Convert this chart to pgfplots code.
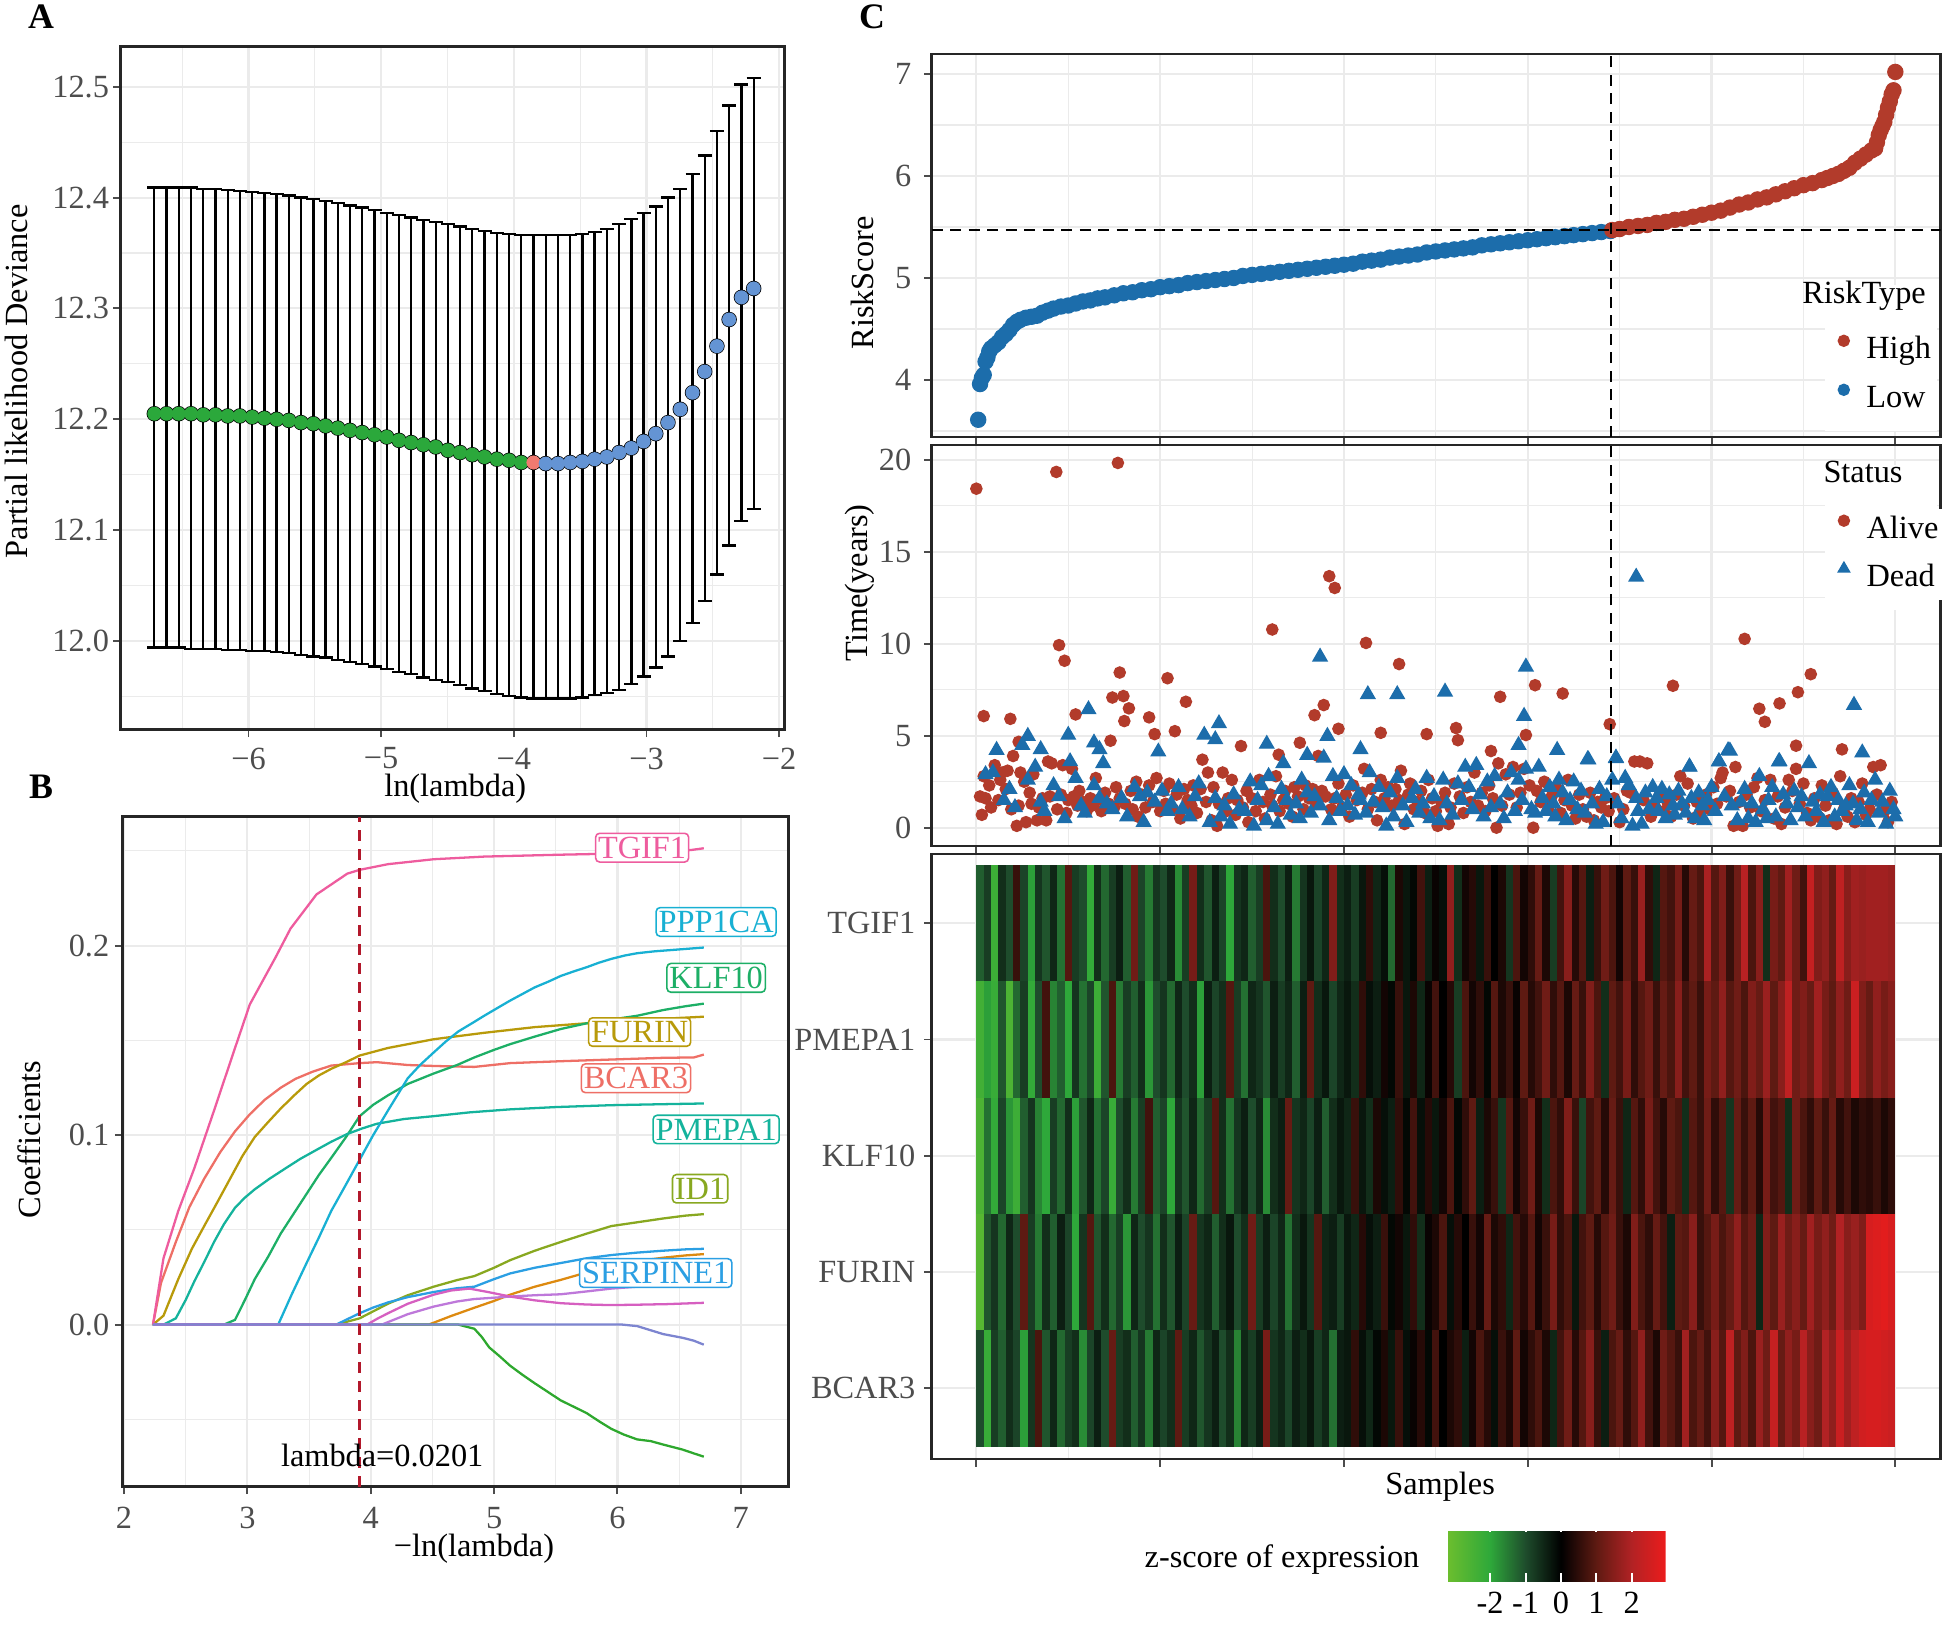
\documentclass[border=0pt]{standalone}
\usepackage{fontspec}
\setmainfont{Liberation Serif}
\usepackage{pgfplots}
\usepackage{pgfplotstable}
\pgfplotsset{compat=1.18}

\definecolor{gridmaj}{HTML}{EBEBEB}
\definecolor{tickcol}{HTML}{4D4D4D}
\definecolor{Agreen}{HTML}{2BA83B}
\definecolor{Ared}{HTML}{F07A70}
\definecolor{Ablue}{HTML}{6494D4}
\definecolor{cBCAR}{HTML}{EE6F66}
\definecolor{cORA}{HTML}{DD8A10}
\definecolor{cFUR}{HTML}{B89A0A}
\definecolor{cID}{HTML}{88A820}
\definecolor{cNG}{HTML}{2EA82E}
\definecolor{cKLF}{HTML}{1DAF66}
\definecolor{cPME}{HTML}{14B39C}
\definecolor{cPPP}{HTML}{18B0D3}
\definecolor{cSER}{HTML}{2B9FE3}
\definecolor{cNB}{HTML}{7D85D0}
\definecolor{cPUR}{HTML}{BE78DA}
\definecolor{cMAG}{HTML}{D65FC0}
\definecolor{cTGI}{HTML}{EE5C9E}
\definecolor{vline}{HTML}{B2182B}
\definecolor{Chigh}{HTML}{B23B2B}
\definecolor{Clow}{HTML}{1C6DAB}

\newcommand\tlfont{\fontsize{9.2}{11}\selectfont}
\pgfdeclareplotmark{hcell}{\pgfpathrectangle{\pgfpoint{-0.0375cm}{-0.5825cm}}{\pgfpoint{0.075cm}{1.165cm}}\pgfusepathqfill}

\tikzset{glab/.style={draw=#1, text=#1, fill=white, rounded corners=0.04cm, line width=0.45pt, inner xsep=0.025cm, inner ysep=0.035cm, font=\tlfont}}

\pgfplotsset{
 gg/.style={
  scale only axis,
  axis line style={line width=0.8pt, draw=black!85},
  tick pos=left,
  tick align=outside,
  major tick length=0.075cm,
  minor tick length=0pt,
  tick style={line width=0.55pt, draw=black!70},
  grid=both,
  major grid style={line width=0.6pt, draw=gridmaj},
  minor grid style={line width=0.3pt, draw=gridmaj},
  tick label style={font=\tlfont, text=tickcol, inner sep=0pt},
  xticklabel style={yshift=-0.11cm},
  label style={font=\tlfont, text=black},
  /pgf/number format/assume math mode=true,
  clip mode=individual,
 },
 dotlegend/.style={legend image code/.code={\draw[##1] plot coordinates {(0.055cm,0.1cm)};}},
}

\pgfplotstableread{
x m lo hi
-6.710 12.205 11.994 12.409
-6.618 12.205 11.994 12.409
-6.526 12.205 11.994 12.409
-6.433 12.205 11.993 12.409
-6.341 12.204 11.993 12.408
-6.249 12.204 11.993 12.408
-6.157 12.203 11.992 12.407
-6.065 12.203 11.992 12.406
-5.972 12.202 11.991 12.405
-5.880 12.201 11.991 12.404
-5.788 12.200 11.990 12.403
-5.696 12.199 11.989 12.402
-5.604 12.197 11.987 12.400
-5.511 12.196 11.986 12.399
-5.419 12.194 11.985 12.397
-5.327 12.192 11.983 12.395
-5.235 12.190 11.981 12.393
-5.143 12.188 11.979 12.391
-5.050 12.186 11.977 12.389
-4.958 12.184 11.975 12.386
-4.866 12.181 11.972 12.384
-4.774 12.179 11.970 12.382
-4.682 12.177 11.967 12.380
-4.589 12.175 11.965 12.378
-4.497 12.172 11.963 12.376
-4.405 12.170 11.960 12.374
-4.313 12.168 11.957 12.372
-4.221 12.166 11.955 12.370
-4.128 12.164 11.952 12.368
-4.036 12.163 11.950 12.367
-3.944 12.161 11.949 12.366
-3.852 12.161 11.948 12.366
-3.760 12.160 11.948 12.366
-3.667 12.160 11.948 12.366
-3.575 12.161 11.948 12.366
-3.483 12.162 11.949 12.367
-3.391 12.164 11.951 12.369
-3.299 12.166 11.953 12.372
-3.206 12.170 11.956 12.376
-3.114 12.174 11.961 12.381
-3.022 12.180 11.968 12.386
-2.930 12.187 11.976 12.392
-2.838 12.197 11.986 12.400
-2.745 12.209 12.000 12.408
-2.653 12.224 12.016 12.421
-2.561 12.243 12.036 12.438
-2.469 12.266 12.060 12.460
-2.377 12.290 12.086 12.483
-2.284 12.310 12.108 12.502
-2.192 12.318 12.119 12.508
}\cvdata

% heatmap: one row per group of 4 samples; columns = genes (z-scores)
\pgfplotstableread{
T P K F B
-1.2 -2.4 -2.6 -2.8 -1.0
-0.8 -1.9 -1.4 -1.1 -2.2
-2.3 -2.2 -2.1 -0.7 -0.8
-0.6 -1.1 -0.9 -1.3 -1.2
-1.0 -2.6 -1.8 -0.5 -0.6
0.6 -1.3 -2.3 -1.0 -0.9
-0.9 -0.8 -1.2 1.0 -1.9
-1.9 -2.1 -0.7 -0.8 -0.7
-0.7 -1.0 -1.6 -1.5 0.8
-1.1 0.7 -2.0 -0.6 -1.1
-0.5 -1.6 -0.8 -1.2 -0.5
-1.4 -1.2 -1.3 -0.4 -1.3
0.9 -2.0 -0.6 -0.9 -0.8
-0.8 -0.7 -1.9 -2.0 -0.6
-1.0 -1.4 -1.1 -0.7 -1.7
-2.1 -0.9 -0.5 0.9 -0.9
-0.6 -2.3 -1.4 -1.1 -0.4
-1.3 -1.1 -0.9 -0.6 -1.0
-0.8 0.8 -2.2 -1.3 1.1
-0.4 -1.5 -1.0 -0.8 -0.8
-1.2 -0.8 -0.6 -1.8 -0.6
1.2 -1.2 -1.5 -0.5 -1.2
-0.9 -0.6 -0.8 -1.0 -0.7
-1.5 -1.8 0.7 -0.7 -1.5
-0.7 -1.0 -1.2 -1.4 -0.5
-1.0 -0.7 -0.9 -0.6 -0.9
-0.5 -1.3 -2.0 -1.1 -0.6
-1.7 -0.5 -0.7 -0.4 1.0
-0.8 -1.0 -1.1 -0.9 -0.8
1.3 -0.6 -0.5 1.1 -0.5
-0.6 -1.9 -1.3 -0.7 -1.1
-1.1 -0.4 -0.8 -0.5 -0.7
-0.4 -0.9 0.9 -1.2 -0.4
-0.9 -0.6 -0.6 -0.6 -1.0
-2.0 0.9 -1.4 -0.3 -0.6
-0.7 -0.8 -0.7 -1.0 -1.6
-0.5 -1.4 -0.4 -0.6 -0.5
-1.2 -0.5 -1.0 1.2 -0.8
-0.8 -0.7 -0.5 -0.8 -0.4
0.8 -1.1 -1.7 -0.4 1.3
-0.6 -0.4 -0.6 -0.9 -0.7
-1.0 -0.8 -0.4 -0.5 -0.5
-0.4 -0.5 1.1 -1.4 -0.9
-1.5 -1.2 -0.7 -0.6 -0.4
-0.7 -0.4 -0.5 -0.3 -0.6
-0.3 1.0 -0.9 -0.7 -0.3
-0.9 -0.6 -0.4 0.9 -0.8
-0.5 -0.3 -1.2 -0.5 -0.5
1.4 -0.9 -0.6 -0.4 -1.4
-0.6 -0.5 -0.3 -0.8 -0.4
-0.4 -0.3 -0.5 -0.3 -0.3
-0.8 -0.6 0.6 -0.5 0.5
-0.3 0.5 -0.3 0.4 -0.2
0.5 -0.2 -0.6 -0.2 -0.5
-0.5 -0.4 0.3 -0.4 -0.1
-0.2 0.2 -0.2 0.6 0.3
-1.3 -0.1 -0.4 -0.1 -0.3
0.3 0.6 0.5 0.2 0.6
-0.3 -0.3 -0.1 -0.3 -0.2
-0.1 0.3 0.7 0.5 0.1
0.7 -0.5 -0.2 -0.6 0.4
-0.4 0.1 0.4 0.1 -0.1
0.1 0.7 -0.3 0.3 0.7
-0.2 0.0 0.2 0.8 0.0
1.6 0.4 0.8 -0.2 0.3
-0.6 -0.8 -0.1 0.4 0.5
0.2 0.8 0.5 0.0 -0.4
0.4 0.2 1.0 0.6 0.2
-0.3 0.5 -0.4 0.2 0.8
0.6 -0.1 0.3 1.1 0.4
0.0 0.9 0.6 0.3 -0.2
0.3 0.3 -0.7 0.5 0.6
-0.7 0.6 0.9 -0.5 0.3
0.8 0.1 0.2 0.7 1.0
0.2 1.0 0.6 0.4 0.2
0.5 0.4 1.2 0.9 0.5
1.1 0.7 0.3 0.2 0.8
0.3 1.2 -0.6 0.6 0.3
-0.8 0.5 0.8 1.3 -0.5
0.7 0.9 0.5 0.5 0.7
1.5 0.3 1.4 0.8 1.2
0.4 1.1 0.6 -0.3 0.4
0.9 0.6 -0.9 0.7 0.9
-0.4 1.4 0.7 1.0 1.5
0.6 0.8 1.0 0.4 0.6
1.2 -0.6 0.4 0.9 -0.4
0.8 1.0 1.1 1.2 0.8
0.2 0.7 0.6 0.6 1.1
1.0 1.3 -0.5 0.3 0.5
0.6 0.5 0.9 1.4 0.9
1.7 0.9 0.5 0.8 1.6
0.5 1.2 1.3 0.5 0.7
-0.5 0.6 0.7 1.1 0.3
0.9 1.1 0.4 0.7 1.2
0.7 0.8 1.0 -0.4 0.9
1.3 1.5 0.8 1.0 0.6
0.4 0.7 -0.6 0.9 1.8
1.1 1.0 0.9 1.5 0.8
0.8 0.6 0.6 0.6 1.1
1.9 1.3 1.2 0.9 0.7
0.9 1.0 0.5 1.3 1.5
1.4 1.6 0.9 0.8 0.9
0.6 0.9 -0.7 1.1 2.2
1.2 1.2 1.1 1.6 1.0
2.1 0.8 0.6 0.9 1.4
0.8 1.4 1.0 1.2 0.8
1.5 1.1 0.4 -0.5 1.7
-0.6 1.7 1.3 1.4 1.2
1.3 1.0 0.7 1.0 2.3
1.0 1.5 0.9 1.7 1.1
1.8 2.2 -0.6 1.2 1.6
1.2 1.2 1.2 1.5 1.3
0.7 1.4 0.8 1.1 2.1
2.3 1.1 0.5 1.8 1.5
1.4 1.8 1.0 1.3 1.2
1.6 1.3 0.6 1.6 2.0
1.1 1.0 1.1 1.2 1.6
2.2 1.6 0.4 2.0 2.4
1.5 1.2 0.7 1.5 1.8
1.8 2.4 0.3 1.7 2.2
1.7 1.4 0.5 1.4 2.5
1.8 1.1 0.4 2.6 2.6
1.8 1.6 0.6 2.7 2.6
1.8 1.3 0.3 2.8 2.5
1.7 1.5 0.5 2.6 2.4
}\heat

\begin{document}
\begin{tikzpicture}[x=1cm,y=1cm]
\useasboundingbox (0,0) rectangle (19.44,16.25);

% ---------------- Panel A ----------------
\begin{axis}[gg, at={(1.209cm,15.781cm)}, anchor=north west, width=6.633cm, height=6.827cm,
  xmin=-6.962, xmax=-1.962, ymin=11.92, ymax=12.536,
  xtick={-6,-5,-4,-3,-2}, xticklabels={−6,−5,−4,−3,−2},
  minor xtick={-6.5,-5.5,-4.5,-3.5,-2.5},
  ytick={12.0,12.1,12.2,12.3,12.4,12.5}, yticklabels={12.0,12.1,12.2,12.3,12.4,12.5},
  minor ytick={11.95,12.05,12.15,12.25,12.35,12.45},
  yticklabel style={xshift=-0.037cm},
  xticklabel style={yshift=0.01cm},
  xlabel={ln(lambda)}, xlabel style={at={(axis description cs:0.504,-0.086)}, anchor=center},
  ylabel={Partial likelihood Deviance}, ylabel style={at={(axis description cs:-0.158,0.51)}, anchor=center}]
\addplot[only marks, mark=none, black, error bars/.cd, y dir=both, y explicit,
  error bar style={line width=0.65pt, black},
  error mark options={rotate=90, mark size=0.07cm, line width=0.65pt, black}]
  table[x=x, y=m, y error plus expr=\thisrow{hi}-\thisrow{m}, y error minus expr=\thisrow{m}-\thisrow{lo}] {\cvdata};
\addplot[only marks, mark=*, mark size=0.063cm, color=Agreen, restrict expr to domain={\coordindex}{0:30}] table[x=x, y=m] {\cvdata};
\addplot[only marks, mark=*, mark size=0.063cm, color=Ared, restrict expr to domain={\coordindex}{31:31}] table[x=x, y=m] {\cvdata};
\addplot[only marks, mark=*, mark size=0.063cm, color=Ablue, restrict expr to domain={\coordindex}{32:49}] table[x=x, y=m] {\cvdata};
\end{axis}

% ---------------- Panel B ----------------
\begin{axis}[gg, at={(1.224cm,8.082cm)}, anchor=north west, width=6.659cm, height=6.698cm,
  xmin=1.987, xmax=7.385, ymin=-0.0855, ymax=0.268,
  xtick={2,3,4,5,6,7}, xticklabels={2,3,4,5,6,7}, minor xtick={2.5,3.5,4.5,5.5,6.5},
  ytick={0,0.1,0.2}, yticklabels={0.0,0.1,0.2}, minor ytick={-0.05,0.05,0.15,0.25},
  yticklabel style={xshift=-0.05cm},
  xticklabel style={yshift=-0.015cm},
  xlabel={−ln(lambda)}, xlabel style={at={(axis description cs:0.528,-0.092)}, anchor=center},
  ylabel={Coefficients}, ylabel style={at={(axis description cs:-0.14,0.518)}, anchor=center}]
\addplot[cBCAR, line width=0.65pt] coordinates {(2.235,0) (2.30,0.022) (2.42,0.0436) (2.53,0.062) (2.65,0.077) (2.78,0.091) (2.90,0.102) (3.02,0.111) (3.14,0.1186) (3.27,0.125) (3.39,0.1297) (3.53,0.1335) (3.68,0.1367) (3.91,0.138) (4.05,0.1385) (4.30,0.137) (4.51,0.1365) (4.84,0.136) (5.13,0.138) (5.54,0.139) (6.00,0.140) (6.37,0.1408) (6.62,0.141) (6.70,0.1425)};
\addplot[cORA, line width=0.65pt] coordinates {(2.235,0) (4.47,0) (4.65,0.0045) (4.84,0.0089) (5.00,0.0125) (5.13,0.0158) (5.33,0.020) (5.54,0.0236) (5.75,0.0275) (5.95,0.031) (6.16,0.0335) (6.37,0.0353) (6.55,0.0365) (6.70,0.0372)};
\addplot[cFUR, line width=0.65pt] coordinates {(2.235,0) (2.32,0.0047) (2.44,0.024) (2.55,0.040) (2.65,0.052) (2.76,0.065) (2.86,0.077) (2.96,0.089) (3.06,0.099) (3.17,0.107) (3.27,0.114) (3.38,0.121) (3.48,0.127) (3.58,0.1315) (3.68,0.135) (3.80,0.1385) (3.91,0.142) (4.14,0.146) (4.51,0.1506) (4.92,0.154) (5.33,0.157) (5.95,0.160) (6.40,0.1615) (6.70,0.1625)};
\addplot[cID, line width=0.65pt] coordinates {(2.235,0) (3.72,0) (3.91,0.0033) (4.02,0.007) (4.14,0.011) (4.30,0.0155) (4.51,0.020) (4.70,0.0235) (4.84,0.0256) (5.00,0.030) (5.13,0.034) (5.33,0.039) (5.54,0.0436) (5.75,0.048) (5.95,0.052) (6.16,0.054) (6.37,0.056) (6.55,0.0575) (6.70,0.0583)};
\addplot[cNG, line width=0.65pt] coordinates {(2.235,0) (4.71,0) (4.84,-0.0022) (4.90,-0.0065) (4.96,-0.012) (5.05,-0.017) (5.13,-0.0217) (5.23,-0.0265) (5.33,-0.031) (5.44,-0.0357) (5.54,-0.040) (5.65,-0.0435) (5.75,-0.0467) (5.85,-0.051) (5.95,-0.055) (6.05,-0.058) (6.16,-0.0606) (6.27,-0.0615) (6.37,-0.0633) (6.53,-0.066) (6.62,-0.068) (6.70,-0.0697)};
\addplot[cKLF, line width=0.65pt] coordinates {(2.235,0) (2.81,0) (2.90,0.0025) (2.98,0.013) (3.06,0.024) (3.17,0.036) (3.27,0.048) (3.38,0.059) (3.48,0.069) (3.58,0.079) (3.68,0.088) (3.80,0.099) (3.91,0.110) (4.02,0.116) (4.14,0.121) (4.30,0.127) (4.51,0.1325) (4.70,0.137) (4.84,0.141) (5.00,0.145) (5.13,0.148) (5.33,0.152) (5.54,0.156) (5.75,0.159) (5.95,0.161) (6.16,0.163) (6.37,0.166) (6.55,0.168) (6.70,0.1694)};
\addplot[cPME, line width=0.65pt] coordinates {(2.235,0) (2.32,0) (2.42,0.0033) (2.50,0.013) (2.57,0.0228) (2.65,0.033) (2.73,0.0436) (2.81,0.053) (2.90,0.0617) (2.98,0.0670) (3.06,0.0714) (3.18,0.0770) (3.31,0.0825) (3.43,0.0875) (3.56,0.0922) (3.68,0.0965) (3.81,0.1006) (3.93,0.1035) (4.05,0.106) (4.27,0.1085) (4.51,0.110) (4.80,0.112) (5.13,0.1136) (5.50,0.1148) (5.95,0.1158) (6.35,0.1163) (6.70,0.1167)};
\addplot[cPPP, line width=0.65pt] coordinates {(2.235,0) (3.25,0) (3.36,0.016) (3.48,0.0325) (3.58,0.046) (3.68,0.060) (3.80,0.074) (3.91,0.087) (4.02,0.100) (4.14,0.113) (4.22,0.1215) (4.30,0.130) (4.40,0.137) (4.51,0.1436) (4.61,0.1495) (4.71,0.1547) (4.82,0.159) (4.92,0.163) (5.03,0.1672) (5.13,0.171) (5.23,0.1745) (5.33,0.178) (5.44,0.181) (5.54,0.184) (5.65,0.1865) (5.75,0.1886) (5.85,0.191) (5.95,0.193) (6.06,0.1948) (6.16,0.196) (6.30,0.197) (6.50,0.198) (6.70,0.199)};
\addplot[cSER, line width=0.65pt] coordinates {(2.235,0) (3.72,0) (3.91,0.006) (4.02,0.009) (4.14,0.0117) (4.30,0.0145) (4.51,0.0172) (4.70,0.0192) (4.84,0.020) (5.00,0.024) (5.13,0.027) (5.33,0.030) (5.54,0.0325) (5.75,0.035) (5.95,0.0367) (6.16,0.038) (6.37,0.039) (6.55,0.0397) (6.70,0.040)};
\addplot[cPUR, line width=0.65pt] coordinates {(2.235,0) (4.09,0) (4.30,0.0055) (4.51,0.0095) (4.70,0.0122) (4.84,0.0135) (5.00,0.0142) (5.13,0.0148) (5.33,0.0155) (5.54,0.016) (5.75,0.0175) (5.95,0.019) (6.16,0.020) (6.40,0.021) (6.70,0.0215)};
\addplot[cMAG, line width=0.65pt] coordinates {(2.235,0) (3.97,0) (4.05,0.003) (4.14,0.006) (4.30,0.011) (4.51,0.0158) (4.65,0.018) (4.80,0.019) (4.95,0.0172) (5.13,0.0148) (5.33,0.0128) (5.54,0.0113) (5.75,0.0106) (5.95,0.0103) (6.16,0.0105) (6.40,0.0108) (6.70,0.0115)};
\addplot[cTGI, line width=0.65pt] coordinates {(2.235,0) (2.32,0.035) (2.44,0.060) (2.57,0.0825) (2.73,0.113) (2.90,0.146) (3.02,0.169) (3.23,0.194) (3.35,0.209) (3.56,0.227) (3.81,0.238) (3.91,0.240) (4.14,0.243) (4.51,0.2456) (4.92,0.247) (5.54,0.248) (6.30,0.249) (6.60,0.2505) (6.70,0.2514)};
\addplot[cNB, line width=0.65pt] coordinates {(2.235,0) (6.04,0) (6.16,-0.0008) (6.26,-0.0028) (6.37,-0.005) (6.53,-0.007) (6.62,-0.0085) (6.70,-0.0106)};
\addplot[vline, line width=0.75pt, dash pattern=on 0.11cm off 0.08cm] coordinates {(3.909,-0.0855) (3.909,0.268)};
\node[font=\tlfont, text=black] at (axis cs:4.093,-0.0689) {lambda=0.0201};
\node[glab=cTGI] at (axis cs:6.20,0.2517) {TGIF1};
\node[glab=cPPP] at (axis cs:6.80,0.2125) {PPP1CA};
\node[glab=cKLF] at (axis cs:6.80,0.183) {KLF10};
\node[glab=cFUR] at (axis cs:6.18,0.1544) {FURIN};
\node[glab=cBCAR] at (axis cs:6.15,0.130) {BCAR3};
\node[glab=cPME] at (axis cs:6.80,0.103) {PMEPA1};
\node[glab=cID] at (axis cs:6.67,0.0717) {ID1};
\node[glab=cSER] at (axis cs:6.31,0.0272) {SERPINE1};
\end{axis}

% ---------------- Panel C: risk score ----------------
\begin{axis}[gg, at={(9.315cm,15.71cm)}, anchor=north west, width=10.09cm, height=3.83cm,
  xmin=-24.4, xmax=524.6, ymin=3.441, ymax=7.196,
  xtick={0,100,200,300,400,500}, xticklabels={,,,,,}, minor xtick={50,150,250,350,450},
  ytick={4,5,6,7}, yticklabels={4,5,6,7}, minor ytick={3.5,4.5,5.5,6.5},
  yticklabel style={xshift=-0.12cm},
  ylabel={RiskScore}, ylabel style={at={(axis description cs:-0.0688,0.402)}, anchor=center},
  legend style={at={(axis description cs:0.896,0.283)}, anchor=north west, draw=none, fill=white,
    font=\tlfont, inner xsep=0.02cm, inner ysep=0.04cm, row sep=0.14cm,
    nodes={inner sep=0.03cm, text height=0.22cm, text depth=0.07cm},
    /tikz/every odd column/.append style={column sep=0.14cm}},
  legend cell align=left]
\addplot[only marks, mark=*, mark size=0.075cm, color=Clow, forget plot] table {
x y
1 3.61
2 3.96
3 4.02
4 4.05
5 4.18
6 4.22
7 4.28
8 4.31
10 4.34
12 4.37
14 4.42
16 4.45
18 4.49
20 4.54
22 4.57
24 4.59
27 4.61
30 4.62
33 4.63
36 4.66
39 4.68
42 4.70
46 4.72
50 4.73
54 4.75
58 4.77
62 4.78
66 4.80
70 4.81
75 4.83
80 4.85
85 4.86
90 4.88
95 4.89
100 4.91
105 4.92
110 4.93
115 4.95
120 4.96
125 4.97
130 4.98
135 4.99
140 5.00
145 5.02
150 5.03
155 5.04
160 5.05
165 5.06
170 5.07
175 5.08
180 5.09
185 5.10
190 5.11
195 5.12
200 5.13
205 5.14
210 5.16
215 5.17
220 5.18
225 5.20
230 5.21
235 5.22
240 5.23
245 5.25
250 5.26
255 5.27
260 5.28
265 5.29
270 5.30
275 5.32
280 5.33
285 5.34
290 5.35
295 5.36
300 5.37
305 5.38
310 5.39
315 5.40
320 5.41
325 5.42
330 5.43
335 5.44
340 5.45
345 5.46
};
\addplot[only marks, mark=*, mark size=0.075cm, color=Chigh, forget plot] table {
x y
346 5.47
350 5.48
355 5.50
360 5.51
365 5.52
370 5.54
375 5.55
380 5.57
385 5.58
390 5.60
395 5.62
400 5.64
405 5.66
410 5.69
415 5.72
420 5.74
425 5.77
430 5.79
435 5.82
440 5.85
445 5.88
450 5.91
455 5.93
460 5.96
463 5.98
466 6.00
469 6.02
472 6.05
475 6.08
478 6.13
481 6.17
484 6.21
487 6.25
489 6.27
490 6.33
491 6.40
492 6.45
493 6.49
494 6.53
495 6.60
496 6.67
497 6.73
498 6.80
499 6.84
500 7.02
};
\addplot[black, line width=0.7pt, dash pattern=on 0.11cm off 0.075cm, forget plot] coordinates {(345.3,3.441) (345.3,7.196)};
\addplot[black, line width=0.7pt, dash pattern=on 0.11cm off 0.075cm, forget plot] coordinates {(-24.4,5.468) (524.6,5.468)};
\fill[white] (axis description cs:0.885,0.015) rectangle (axis description cs:0.996,0.397);
\addlegendimage{only marks, mark=*, mark size=0.055cm, color=Chigh, dotlegend}
\addlegendentry{High}
\addlegendimage{only marks, mark=*, mark size=0.055cm, color=Clow, dotlegend}
\addlegendentry{Low}
\end{axis}

% ---------------- Panel C: survival time ----------------
\begin{axis}[gg, at={(9.315cm,11.80cm)}, anchor=north west, width=10.09cm, height=4.01cm,
  xmin=-24.4, xmax=524.6, ymin=-0.995, ymax=20.816,
  xtick={0,100,200,300,400,500}, xticklabels={,,,,,}, minor xtick={50,150,250,350,450},
  ytick={0,5,10,15,20}, yticklabels={0,5,10,15,20}, minor ytick={2.5,7.5,12.5,17.5},
  yticklabel style={xshift=-0.12cm},
  ylabel={Time(years)}, ylabel style={at={(axis description cs:-0.0708,0.656)}, anchor=center},
  legend style={at={(axis description cs:0.896,0.8416)}, anchor=north west, draw=none, fill=white,
    font=\tlfont, inner xsep=0.02cm, inner ysep=0.04cm, row sep=0.13cm,
    nodes={inner sep=0.03cm, text height=0.22cm, text depth=0.07cm},
    /tikz/every odd column/.append style={column sep=0.14cm}},
  legend cell align=left]
\addplot[only marks, mark=*, mark size=0.056cm, color=Chigh, forget plot] coordinates {
(0,18.44) (43.5,19.35) (77,19.84) (45,9.93) (48,9.08) (161,10.78) (192,13.68) (195,13.04) (212,10.05) (230,8.9)
(418,10.27) (454,8.35) (379,7.72) (304,7.75) (319,7.3) (447,7.37) (437,6.76) (426,6.47) (429,5.76) (344.6,5.63)
(78,8.44) (74,7.08) (80,7.16) (83,6.49) (80.5,5.8) (104,8.13) (114,6.85) (94,6.0) (97,5.09) (108,5.25)
(54,6.16) (4,6.07) (18.5,5.92) (285,7.12) (299,5.04) (184,6.12) (189,6.67) (197,5.38) (220,5.16) (245,5.09)
(261,5.42) (262,4.76) (280,4.17) (176,4.62) (144,4.44) (164.5,3.97) (73,4.73) (23,4.67) (471,4.26) (446,4.46)
(2,1.7) (3,0.7) (4,2.8) (5,1.6) (7,2.3) (8,1.1) (10,3.4) (12,1.5) (13,2.6) (14,3.0) (16,2.1) (17,3.1) (19,1.0) (20,3.9)
(22,0.1) (23,1.2) (24,3.0) (26,2.5) (27,0.3) (29,1.9) (30,1.3) (31,2.9) (33,0.4) (34,1.1) (36,1.6) (38,0.4) (39,3.6)
(40,1.7) (41,3.5) (44,1.0) (46,1.8) (47,3.4) (49,0.8) (50,1.5) (52,3.2) (53,1.7) (55,1.2) (56,2.0) (58,1.4) (60,0.9)
(62,1.6) (63,1.2) (65,2.7) (66,1.5) (68,0.9) (70,1.9) (72,1.3) (75,1.1) (76,2.2) (78,1.6) (81,1.3) (84,2.0) (85,1.0)
(87,2.5) (88,0.6) (90,1.8) (92,1.1) (94,2.3) (96,1.4) (98,2.7) (100,0.9) (102,2.0) (103,1.3) (105,2.4) (107,1.0)
(109,1.8) (111,0.5) (113,2.1) (115,1.5) (117,1.2) (118,2.3) (120,0.8) (122,2.1) (123,3.7) (125,1.4) (126,3.0)
(128,0.4) (129,2.2) (131,0.1) (132,1.3) (134,3.0) (136,0.9) (137,1.6) (139,2.6) (141,0.7) (142,1.5) (145,1.1)
(147,2.0) (148,0.3) (150,1.6) (152,0.9) (154,2.6) (156,1.4) (157,0.5) (160,1.8) (161,1.2) (163,2.8) (165,0.9)
(167,1.5) (168,2.0) (170,1.3) (172,0.6) (173,2.2) (175,1.7) (178,1.0) (179,2.3) (181,1.6) (183,2.1) (185,1.3)
(186,3.9) (188,2.0) (190,1.7) (193,1.0) (195,1.6) (197,2.4) (199,1.1) (201,1.8) (203,0.6) (205,2.3) (207,1.5)
(210,1.9) (211,3.2) (213,1.0) (215,2.1) (217,1.4) (218,0.4) (220,2.6) (222,1.6) (224,2.2) (226,1.2) (228,2.1)
(230,1.5) (231,3.1) (233,0.2) (235,1.8) (236,2.4) (238,1.0) (240,1.4) (242,2.0) (244,0.8) (246,2.6) (248,1.6)
(250,0.9) (251,0.1) (253,1.4) (255,1.9) (257,0.2) (258,1.1) (260,2.4) (263,1.7) (265,0.8) (267,2.2) (269,1.4)
(271,3.0) (273,1.2) (275,1.9) (277,0.9) (279,2.3) (281,1.6) (283,0.0) (284,3.5) (286,1.2) (288,2.9) (290,1.8)
(292,3.3) (294,1.1) (296,1.9) (298,3.2) (301,2.3) (303,0.0) (305,2.0) (307,1.4) (309,2.5) (311,1.0) (313,1.7)
(316,2.1) (318,0.8) (320,1.5) (322,2.6) (324,1.2) (326,0.5) (328,1.8) (330,1.0) (332,0.6) (334,1.9) (336,0.4)
(338,1.4) (340,1.1) (342,1.6) (344,0.9)
(347,1.6) (350,0.3) (352,1.0) (354,2.0) (356,1.9) (358,3.6) (361,3.6) (363,1.5) (365,3.5) (367,0.6) (369,1.2)
(372,1.8) (374,0.9) (376,1.4) (378,0.6) (381,1.8) (383,2.8) (385,1.2) (387,2.4) (390,0.5) (392,1.4) (394,0.8)
(397,1.8) (399,1.0) (401,2.2) (403,1.3) (405,2.7) (406,3.0) (408,1.7) (410,2.0) (412,0.1) (413,3.3) (415,1.4)
(417,0.1) (419,1.8) (421,1.1) (423,2.2) (425,2.7) (427,0.9) (429,1.5) (432,2.6) (434,0.5) (436,1.7) (438,0.2)
(440,1.1) (442,2.6) (444,2.0) (446,3.2) (448,1.3) (450,2.4) (452,0.8) (454,0.4) (456,1.6) (458,0.6) (460,2.3)
(462,1.2) (464,0.4) (466,1.9) (468,0.2) (470,2.8) (472,1.0) (474,0.6) (476,1.6) (478,0.3) (480,1.4) (482,2.4)
(484,0.7) (486,1.0) (488,3.3) (490,1.8) (492,3.4) (494,0.9) (496,0.3) (498,1.4)
};
\addplot[only marks, mark=triangle*, mark size=0.08cm, color=Clow, forget plot] coordinates {
(359,13.64) (187,9.29) (299,8.75) (213,7.25) (229,7.25) (255,7.39) (298,6.07) (477.5,6.67) (61,6.43) (132,5.67)
(124,5.04) (130,4.8) (50,5.04) (28,4.98) (25,4.49) (35,4.26) (11,4.22) (64,4.62) (67,4.26) (158,4.55)
(191,4.98) (209,4.26) (295,4.49) (316,4.22) (332.6,3.71) (348,3.77) (410,4.18) (404,3.59) (482,4.08) (436.6,3.59)
(388,3.32) (99,4.13) (180,3.95) (167,3.50)
(5,2.9) (9,3.0) (15,1.5) (18,2.1) (21,1.1) (28,2.6) (32,3.3) (35,1.4) (37,0.9) (42,2.3) (45,1.7) (48,0.5) (51,3.6)
(54,2.7) (57,1.2) (59,0.8) (64,2.3) (67,1.6) (69,3.5) (71,1.3) (74,1.0) (79,1.6) (82,0.6) (86,2.2) (89,1.7) (91,0.3)
(93,1.9) (97,1.4) (101,2.0) (104,0.9) (106,1.3) (110,2.2) (112,1.0) (116,0.6) (119,1.7) (121,2.4) (127,0.3) (130,1.6)
(133,0.6) (135,1.2) (138,0.2) (140,1.8) (143,1.0) (146,0.9) (149,2.5) (151,0.1) (153,1.5) (155,2.3) (158,0.4)
(159,2.8) (162,1.1) (164,0.2) (166,2.1) (169,1.5) (171,0.7) (174,1.3) (176,0.5) (177,2.6) (180,1.9) (182,0.8)
(184,1.7) (187,1.2) (189,3.8) (192,0.4) (194,2.8) (196,1.6) (198,0.9) (200,2.9) (202,1.2) (204,2.3) (206,0.7)
(208,1.8) (209,1.5) (212,0.8) (214,3.0) (216,1.4) (219,2.2) (221,1.1) (223,0.1) (225,1.9) (227,0.6) (229,2.7)
(232,1.2) (234,0.3) (237,1.6) (239,2.1) (241,0.8) (243,1.3) (245,2.7) (247,0.5) (249,1.7) (252,0.4) (254,2.6)
(256,1.3) (259,0.7) (262,2.4) (264,1.5) (266,3.3) (268,2.2) (270,1.0) (272,3.4) (274,1.8) (276,0.6) (278,2.5)
(280,1.1) (282,2.8) (285,1.3) (287,0.5) (289,1.9) (291,3.0) (293,0.9) (295,2.6) (297,1.5) (299,3.2) (302,1.0)
(304,0.8) (306,3.3) (308,1.6) (310,0.9) (312,2.2) (314,1.3) (315,0.6) (317,2.6) (319,1.9) (321,0.4) (323,1.5)
(325,2.5) (327,1.0) (329,2.0) (331,0.8) (333,3.7) (335,1.3) (337,0.2) (339,2.1) (341,0.3) (343,1.7)
(346,2.6) (348,3.8) (349,1.3) (351,0.5) (353,2.7) (355,2.3) (357,0.1) (359,1.6) (360,0.9) (362,0.2) (364,1.9)
(366,1.0) (368,2.2) (370,1.6) (371,0.9) (373,2.1) (375,0.5) (377,1.8) (379,1.2) (380,0.7) (382,2.0) (384,1.3)
(386,0.8) (388,3.3) (389,1.6) (391,0.5) (393,1.9) (395,1.2) (396,0.4) (398,1.5) (400,2.2) (402,0.9) (404,3.6)
(407,1.7) (409,4.2) (411,1.2) (414,0.4) (416,1.4) (418,2.1) (420,0.5) (422,1.3) (424,0.3) (426,2.8) (428,1.0)
(430,0.5) (431,1.5) (433,2.2) (435,0.6) (437,3.6) (439,1.8) (441,1.3) (443,0.4) (445,2.0) (447,1.1) (449,1.7)
(451,0.6) (453,3.5) (455,1.4) (457,0.9) (459,1.8) (461,0.3) (463,1.7) (465,2.2) (467,0.6) (469,1.5) (471,0.9)
(473,1.2) (475,2.3) (477,1.3) (479,0.4) (481,1.0) (483,1.9) (485,0.3) (487,1.5) (489,2.6) (491,0.8) (493,1.4)
(495,0.2) (497,2.0) (499,1.0) (500,0.6)
};
\addplot[black, line width=0.7pt, dash pattern=on 0.11cm off 0.075cm, forget plot] coordinates {(345.3,-0.995) (345.3,20.816)};
\fill[white] (axis description cs:0.885,0.588) rectangle (axis description cs:0.996,0.95);
\addlegendimage{only marks, mark=*, mark size=0.055cm, color=Chigh, dotlegend}
\addlegendentry{Alive}
\addlegendimage{only marks, mark=triangle*, mark size=0.065cm, color=Clow, dotlegend}
\addlegendentry{Dead}
\end{axis}

% ---------------- Panel C: heatmap ----------------
\begin{axis}[gg, at={(9.315cm,7.71cm)}, anchor=north west, width=10.09cm, height=6.05cm,
  xmin=-24.4, xmax=524.6, ymin=0.393, ymax=5.595,
  grid=none, xmajorgrids, xminorgrids, ymajorgrids,
  xtick={0,100,200,300,400,500}, xticklabels={,,,,,}, minor xtick={50,150,250,350,450},
  ytick={1,2,3,4,5}, yticklabels={BCAR3,FURIN,KLF10,PMEPA1,TGIF1},
  yticklabel style={xshift=-0.08cm},
  xlabel={Samples}, xlabel style={at={(axis description cs:0.504,-0.046)}, anchor=center},
  colormap={zmap}{rgb255(0cm)=(108,190,46); rgb255(1.21cm)=(46,168,58); rgb255(2.21cm)=(30,76,44); rgb255(3.21cm)=(0,0,0); rgb255(4.21cm)=(94,26,18); rgb255(5.21cm)=(178,34,36); rgb255(6.17cm)=(236,28,28)},
  point meta min=-3.21, point meta max=2.96,
  colorbar horizontal,
  colorbar style={at={(parent axis.south west)}, anchor=north west, xshift=5.158cm, yshift=-0.34cm,
    scale only axis, width=2.184cm, height=0.587cm, axis line style={draw=none},
    xtick={-2,-1,0,1,2}, xticklabels={-2,-1,0,1,2}, ytick=\empty,
    tick align=inside, xtick pos=both, xticklabel pos=lower, major tick length=0.09cm,
    tick style={draw=white, line width=0.6pt},
    xticklabel style={font=\tlfont, text=black, inner sep=0pt, yshift=-0.1cm}}]
\addplot[scatter, only marks, mark=hcell, point meta=explicit] table[x expr=4*\coordindex+2, y expr=5, meta=T] {\heat};
\addplot[scatter, only marks, mark=hcell, point meta=explicit] table[x expr=4*\coordindex+2, y expr=4, meta=P] {\heat};
\addplot[scatter, only marks, mark=hcell, point meta=explicit] table[x expr=4*\coordindex+2, y expr=3, meta=K] {\heat};
\addplot[scatter, only marks, mark=hcell, point meta=explicit] table[x expr=4*\coordindex+2, y expr=2, meta=F] {\heat};
\addplot[scatter, only marks, mark=hcell, point meta=explicit] table[x expr=4*\coordindex+2, y expr=1, meta=B] {\heat};
\end{axis}

% titles, panel letters
\node[font=\tlfont] at (18.64,13.29) {RiskType};
\node[font=\tlfont] at (18.63,11.53) {Status};
\node[font=\tlfont] at (12.82,0.65) {z-score of expression};
\node[font=\fontsize{10.2}{12}\selectfont\bfseries] at (0.41,16.08) {A};
\node[font=\fontsize{10.2}{12}\selectfont\bfseries] at (0.41,8.38) {B};
\node[font=\fontsize{10.2}{12}\selectfont\bfseries] at (8.72,16.08) {C};
\end{tikzpicture}
\end{document}
